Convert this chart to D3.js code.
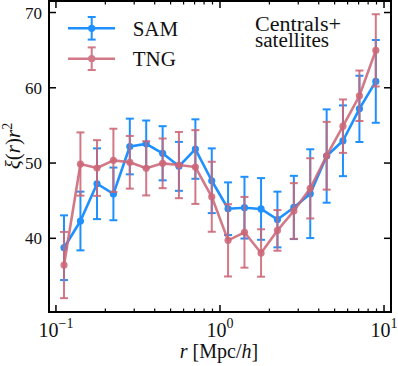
<!DOCTYPE html>
<html><head><meta charset="utf-8">
<script src="https://cdn.jsdelivr.net/npm/d3@7"></script>
<style>body{margin:0;background:#fff}svg{display:block}</style>
</head><body><svg id="c" width="398" height="366"></svg>
<script>
const radii = [0.112, 0.141, 0.178, 0.224, 0.282, 0.355, 0.447, 0.562, 0.708, 0.891, 1.12, 1.41, 1.78, 2.24, 2.82, 3.55, 4.47, 5.62, 7.08, 8.91];
const samValues = [38.75, 42.3, 47.25, 45.9, 52.2, 52.55, 51.3, 49.56, 51.86, 47.65, 43.93, 44.07, 43.9, 42.5, 44.1, 45.93, 50.93, 52.96, 57.2, 60.85];
const samErrors = [4.3, 3.9, 4.7, 3.5, 3.7, 3.1, 3.6, 3.25, 3.95, 4.3, 3.5, 4.1, 4.1, 3.7, 4.2, 5.9, 6.2, 4.7, 4.4, 5.5];
const tngValues = [36.45, 49.87, 49.34, 50.36, 50.1, 49.3, 49.96, 49.73, 49.47, 45.52, 39.73, 40.8, 38.05, 41.05, 43.63, 46.64, 50.97, 54.9, 58.94, 64.97];
const tngErrors = [4.4, 4.2, 3.7, 4.2, 3.5, 3.6, 3.3, 4.4, 4.9, 4.65, 4.8, 4.7, 3.15, 2.7, 3.7, 4.0, 4.5, 3.55, 3.35, 4.8];
const seriesNames = ["SAM", "TNG"];
const yTicks = [40, 50, 60, 70];
const xMajorTicks = [0.1, 1, 10];
const xTickExponents = ["\u22121", "0", "1"];
const annotationLines = ["Centrals+", "satellites"];

const FONT = "Liberation Serif";
const svg = d3.select("#c");
const L = 49, R = 391, T = 1, B = 312;
const x = d3.scaleLog().domain([0.0907, 11.03]).range([L, R]);
const y = d3.scaleLinear().domain([30.21, 71.53]).range([B, T]);

const colors = {SAM: "#1E90FF", TNG: "#CC6677"};
const series = [
  {name: seriesNames[0], vals: samValues, errs: samErrors, op: 1},
  {name: seriesNames[1], vals: tngValues, errs: tngErrors, op: 0.88}
];

function txt(sel) { return sel.append("text").style("font-family", FONT).attr("fill", "#111"); }

series.forEach(s => {
  const g = svg.append("g");
  const c = colors[s.name];
  const pts = radii.map((r, i) => ({r, v: s.vals[i], e: s.errs[i]}));
  pts.forEach(p => {
    g.append("line").attr("x1", x(p.r)).attr("x2", x(p.r)).attr("y1", y(p.v - p.e)).attr("y2", y(p.v + p.e))
      .attr("stroke", c).attr("stroke-width", 2).attr("opacity", s.op);
    [p.v - p.e, p.v + p.e].forEach(v => {
      g.append("line").attr("x1", x(p.r) - 4).attr("x2", x(p.r) + 4).attr("y1", y(v)).attr("y2", y(v))
        .attr("stroke", c).attr("stroke-width", 2).attr("opacity", s.op);
    });
  });
  g.append("path").datum(pts).attr("fill", "none").attr("stroke", c).attr("stroke-width", 2.6)
    .attr("stroke-linejoin", "round").attr("opacity", s.op)
    .attr("d", d3.line().x(d => x(d.r)).y(d => y(d.v)));
  g.selectAll("circle.m").data(pts).join("circle").attr("cx", d => x(d.r)).attr("cy", d => y(d.v))
    .attr("r", 3.6).attr("fill", c).attr("opacity", s.op);
});

const axG = svg.append("g").attr("stroke", "#000");
const minor = [];
[0.1, 1].forEach(d => { for (let k = 2; k <= 9; k++) minor.push(d * k); });
xMajorTicks.forEach(t => {
  axG.append("line").attr("x1", x(t)).attr("x2", x(t)).attr("y1", B).attr("y2", B - 7).attr("stroke-width", 1.5);
  axG.append("line").attr("x1", x(t)).attr("x2", x(t)).attr("y1", T).attr("y2", T + 7).attr("stroke-width", 1.5);
});
minor.filter(t => t > x.domain()[0] && t < x.domain()[1]).forEach(t => {
  axG.append("line").attr("x1", x(t)).attr("x2", x(t)).attr("y1", B).attr("y2", B - 3.5).attr("stroke-width", 1.2);
  axG.append("line").attr("x1", x(t)).attr("x2", x(t)).attr("y1", T).attr("y2", T + 3.5).attr("stroke-width", 1.2);
});
yTicks.forEach(t => {
  axG.append("line").attr("x1", L).attr("x2", L + 7).attr("y1", y(t)).attr("y2", y(t)).attr("stroke-width", 1.5);
  axG.append("line").attr("x1", R).attr("x2", R - 7).attr("y1", y(t)).attr("y2", y(t)).attr("stroke-width", 1.5);
});
svg.append("rect").attr("x", L).attr("y", T).attr("width", R - L).attr("height", B - T)
  .attr("fill", "none").attr("stroke", "#000").attr("stroke-width", 2);

yTicks.forEach(t => {
  txt(svg).attr("x", 42).attr("y", y(t) + 6).attr("text-anchor", "end").attr("font-size", 17).text(t);
});
xMajorTicks.forEach((t, i) => {
  const tx = txt(svg).attr("x", x(t)).attr("y", 336.7).attr("text-anchor", "middle").attr("font-size", 20);
  tx.append("tspan").text("10");
  tx.append("tspan").attr("dy", -8.5).attr("font-size", 14).text(xTickExponents[i]);
});

const xl = txt(svg).attr("x", 219).attr("y", 358).attr("text-anchor", "middle").attr("font-size", 20);
xl.append("tspan").attr("font-style", "italic").text("r");
xl.append("tspan").text(" [Mpc/");
xl.append("tspan").attr("font-style", "italic").text("h");
xl.append("tspan").text("]");

const yl = txt(svg).attr("transform", "translate(19.5,146) rotate(-90)").attr("text-anchor", "middle").attr("font-size", 21);
yl.append("tspan").attr("font-style", "italic").text("\u03BE");
yl.append("tspan").text("(");
yl.append("tspan").attr("font-style", "italic").text("r");
yl.append("tspan").text(")");
yl.append("tspan").attr("font-style", "italic").text("r");
yl.append("tspan").attr("dy", -7.5).attr("font-size", 14).text("2");

const ann = txt(svg).attr("font-size", 20);
ann.append("tspan").attr("x", 255).attr("y", 30.7).attr("textLength", 86).attr("lengthAdjust", "spacingAndGlyphs").text(annotationLines[0]);
ann.append("tspan").attr("x", 255).attr("y", 46.7).attr("textLength", 74).attr("lengthAdjust", "spacingAndGlyphs").text(annotationLines[1]);

seriesNames.forEach((n, i) => {
  const cy = 28.3 + i * 30.4;
  const c = colors[n];
  const op = series[i].op;
  const g = svg.append("g").attr("opacity", op);
  g.append("line").attr("x1", 68).attr("x2", 115).attr("y1", cy).attr("y2", cy).attr("stroke", c).attr("stroke-width", 2.6);
  g.append("line").attr("x1", 91.7).attr("x2", 91.7).attr("y1", cy - 11.3).attr("y2", cy + 11.3).attr("stroke", c).attr("stroke-width", 2);
  [cy - 11.3, cy + 11.3].forEach(yy => g.append("line").attr("x1", 87.7).attr("x2", 95.7).attr("y1", yy).attr("y2", yy).attr("stroke", c).attr("stroke-width", 2));
  g.append("circle").attr("cx", 91.7).attr("cy", cy).attr("r", 3.6).attr("fill", c);
  txt(svg).attr("x", 132.7).attr("y", cy + 7.4).attr("font-size", 21).text(n);
});
</script></body></html>
